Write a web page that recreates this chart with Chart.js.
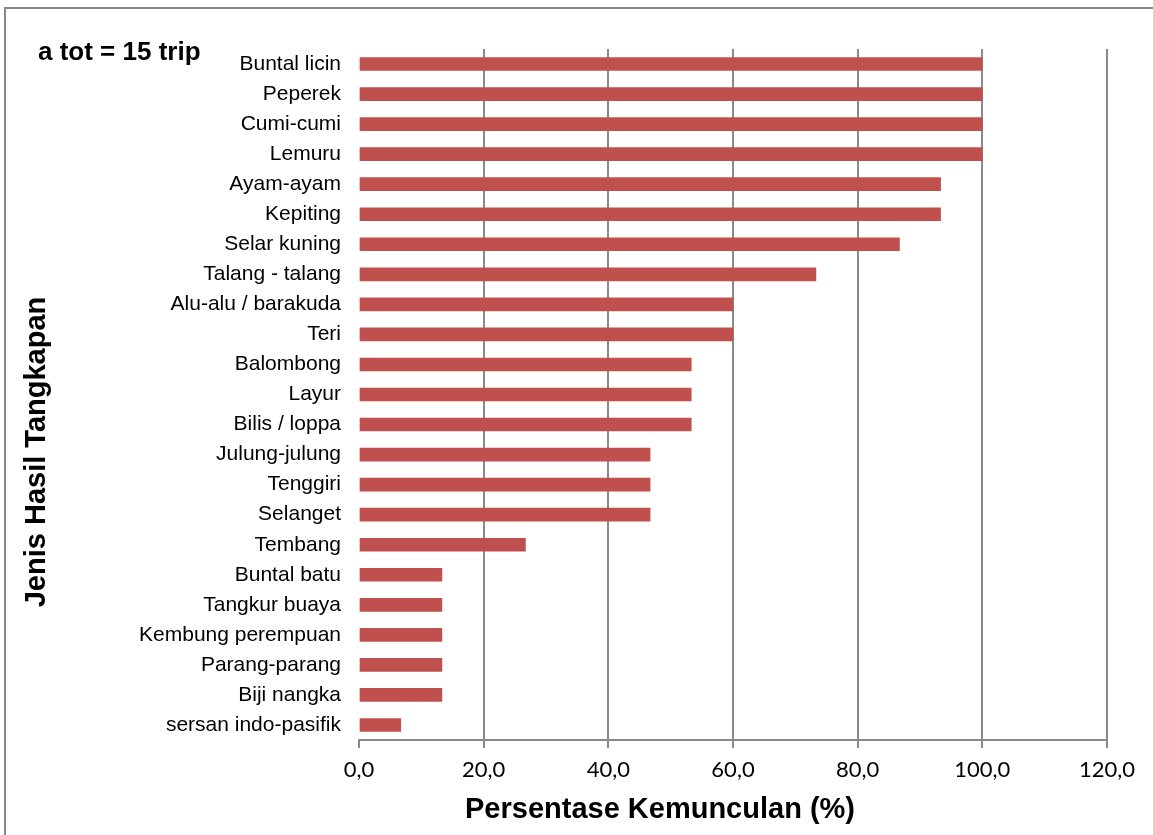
<!DOCTYPE html>
<html>
<head>
<meta charset="utf-8">
<title>Persentase Kemunculan</title>
<script src="https://cdn.jsdelivr.net/npm/chart.js@4/dist/chart.umd.min.js"></script>
<style>
  html, body { margin: 0; padding: 0; background: #fff; overflow: hidden; }
  #wrap { position: relative; width: 1153px; height: 835px; }
  #frame {
    position: absolute; left: 4px; top: 7px;
    width: 1200px; height: 900px;
    border: 2px solid #878787;
    pointer-events: none;
  }
  canvas { position: absolute; left: 0; top: 0; }
</style>
</head>
<body>
<div id="wrap">
  <canvas id="barChart" width="1153" height="835"></canvas>
  <div id="frame"></div>
</div>
<script>
// ---- data ----
const categories = [
  'Buntal licin', 'Peperek', 'Cumi-cumi', 'Lemuru', 'Ayam-ayam', 'Kepiting',
  'Selar kuning', 'Talang - talang', 'Alu-alu / barakuda', 'Teri', 'Balombong',
  'Layur', 'Bilis / loppa', 'Julung-julung', 'Tenggiri', 'Selanget', 'Tembang',
  'Buntal batu', 'Tangkur buaya', 'Kembung perempuan', 'Parang-parang',
  'Biji nangka', 'sersan indo-pasifik'
];
const kemunculan = [
  100, 100, 100, 100, 93.3, 93.3,
  86.7, 73.3, 60, 60, 53.3,
  53.3, 53.3, 46.7, 46.7, 46.7, 26.7,
  13.3, 13.3, 13.3, 13.3,
  13.3, 6.7
];
const xTicks = { min: 0, max: 120, step: 20 };
const noteText = 'a tot = 15 trip';
const xTitle = 'Persentase Kemunculan (%)';
const yTitle = 'Jenis Hasil Tangkapan';

const gridGray = '#8a8a8a';
const arial = '"Liberation Sans", Arial, sans-serif';

// catatan + judul sumbu digambar manual (posisinya tidak di tengah area plot)
const textPlugin = {
  id: 'texts',
  afterDraw(chart) {
    const c = chart.ctx;
    c.save();
    c.fillStyle = '#000';
    c.textBaseline = 'middle';

    c.font = 'bold 26px ' + arial;
    c.textAlign = 'left';
    c.fillText(noteText, 38, 53);

    c.font = 'bold 29px ' + arial;
    c.textAlign = 'center';
    c.fillText(xTitle, 660, 810);

    c.translate(37, 452);
    c.rotate(-Math.PI / 2);
    c.fillText(yTitle, 0, 0);
    c.restore();
  }
};

const ctx = document.getElementById('barChart').getContext('2d');
new Chart(ctx, {
  type: 'bar',
  data: {
    labels: categories,
    datasets: [{
      data: kemunculan,
      backgroundColor: '#C0504D',
      borderWidth: 0,
      barThickness: 13,
    }],
  },
  options: {
    indexAxis: 'y',
    responsive: false,
    devicePixelRatio: 1,
    animation: false,
    layout: { padding: { top: 49, right: 46, bottom: 0, left: 5 } },
    plugins: {
      legend: { display: false },
      tooltip: { enabled: false },
    },
    scales: {
      x: {
        min: xTicks.min,
        max: xTicks.max,
        afterFit: s => { s.height = 95; },
        ticks: {
          stepSize: xTicks.step,
          color: '#000',
          padding: 9,
          maxRotation: 0,
          font: { family: 'Lato, "Open Sans", sans-serif', size: 22 },
          callback: v => v.toFixed(1).replace('.', ','),
        },
        grid: {
          color: c => (c.tick && c.tick.value === 0 ? 'rgba(0,0,0,0)' : gridGray),
          tickColor: gridGray,
          lineWidth: 2,
          tickLength: 8,
        },
        border: { display: true, color: gridGray, width: 2 },
      },
      y: {
        afterFit: s => { s.width = 354; },
        grid: { display: false, drawTicks: false },
        border: { display: false },
        ticks: {
          color: '#000',
          padding: 18,
          autoSkip: false,
          font: { family: arial, size: 21 },
        },
      },
    },
  },
  plugins: [textPlugin],
});
</script>
</body>
</html>
